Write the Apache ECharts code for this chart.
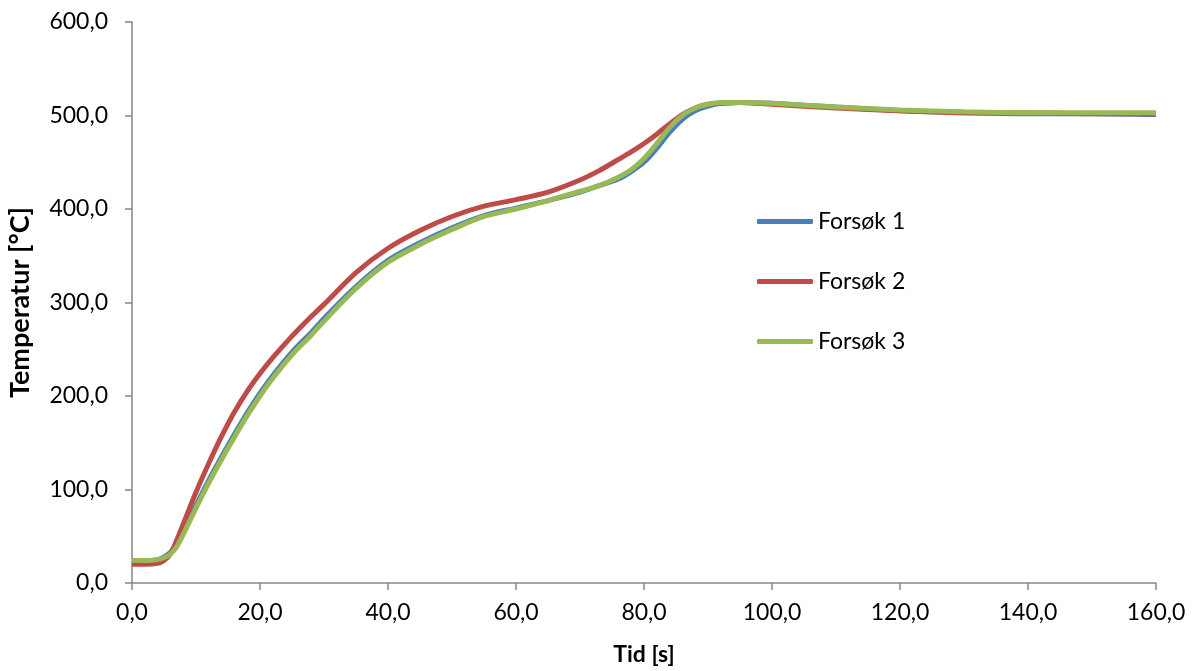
<!DOCTYPE html>
<html>
<head>
<meta charset="utf-8">
<title>Temperatur</title>
<script src="https://cdn.jsdelivr.net/npm/echarts@6/dist/echarts.min.js"></script>
</head>
<body style="margin:0">
<div id="main" style="width:1195px;height:671px;"></div>
<script type="text/javascript">
// tid [s]
var tid = [0,2,4,5,6,7,8,10,12,14,16,18,20,22,25,28,30,35,40,45,50,55,60,65,70,73,76,78,80,82,84,86,88,90,92,95,100,110,120,130,140,150,160];
// temperatur [°C]
var forsok1 = [24,24,25,28,33,42,54,83,110,135,159,182,203,222,247,268,283,317,345,364,380,393,401,409,418,425,432,440,450,465,482,496,505,510,513,514,513,509,505,503,502,502,501];
var forsok2 = [20,20,21,24,31,46,63,97,128,157,183,205,224,241,264,285,298,332,358,377,392,403,410,418,431,441,453,461,470,480,491,501,508,512,513,514,512,508,505,503,503,502,502];
var forsok3 = [24,24,25,27,31,39,52,80,107,132,156,179,200,219,244,265,280,315,343,362,378,392,400,409,419,425,434,442,454,470,487,500,508,512,514,514,513,509,506,504,503,503,503];
var navn = ['Forsøk 1', 'Forsøk 2', 'Forsøk 3'];
var farger = ['#4a7ebb', '#be4b48', '#98b954'];

function par(x, y) {
    return x.map(function (t, i) { return [t, y[i]]; });
}
function komma(v) { return v.toFixed(1).replace('.', ','); }

var myChart = echarts.init(document.getElementById('main'));
var linje = { color: '#868686', width: 1.5 };
myChart.setOption({
    animation: false,
    textStyle: { fontFamily: 'Lato' },
    grid: { left: 132, right: 39, top: 22, bottom: 88, containLabel: false, outerBoundsMode: 'none' },
    legend: {
        orient: 'vertical',
        left: 752, top: 205,
        itemWidth: 56, itemHeight: 5, itemGap: 37,
        icon: 'roundRect',
        data: navn,
        textStyle: { fontSize: 23, color: '#000', fontFamily: 'Lato' }
    },
    xAxis: {
        type: 'value', min: 0, max: 160, interval: 20,
        name: 'Tid [s]', nameLocation: 'middle', nameGap: 60,
        nameTextStyle: { fontSize: 23, fontWeight: 'bold', color: '#000' },
        axisLine: { lineStyle: linje },
        axisTick: { show: true, length: 7, lineStyle: linje },
        splitLine: { show: false },
        axisLabel: { fontSize: 23, color: '#000', margin: 18, formatter: komma }
    },
    yAxis: {
        type: 'value', min: 0, max: 600, interval: 100,
        name: 'Temperatur [°C]', nameLocation: 'middle', nameGap: 98,
        nameTextStyle: { fontSize: 27, fontWeight: 'bold', color: '#000' },
        axisLine: { show: true, lineStyle: linje },
        axisTick: { show: true, length: 7, lineStyle: linje },
        splitLine: { show: false },
        axisLabel: { fontSize: 23, color: '#000', margin: 24, formatter: komma }
    },
    series: [forsok1, forsok2, forsok3].map(function (d, i) {
        return {
            name: navn[i], type: 'line', data: par(tid, d),
            smooth: 0.3, showSymbol: false,
            color: farger[i],
            lineStyle: { width: 5, color: farger[i] }
        };
    })
});
</script>
</body>
</html>
